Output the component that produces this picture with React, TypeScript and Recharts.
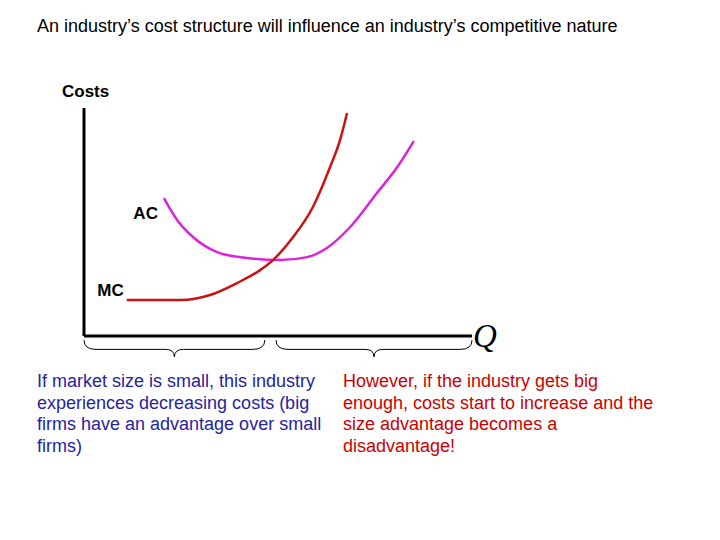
import React from "react";
import { LineChart, Line, XAxis, YAxis, ReferenceArea, ReferenceLine } from "recharts";

// curve points (quantity 0-100, cost 0-100)
const MC_Q = [11, 25, 32.5, 39.4, 45.4, 48.7, 53.9, 59, 63.4, 66, 67.8];
const MC_C = [15.8, 15.8, 18, 23.2, 28.9, 33.3, 43.4, 56.6, 74, 86, 97.8];
const AC_Q = [20.6, 24, 28.1, 34.3, 42, 50.5, 57.5, 62.6, 68.6, 75.5, 80.7, 85];
const AC_C = [60.5, 50.9, 43.4, 36.8, 34.2, 33.3, 34.6, 38.6, 47.8, 62.7, 74, 85.5];

// brace ranges along the quantity axis
const BRACES = [
  [0, 46.6],
  [49.5, 100],
];

const TITLE = "An industry\u2019s cost structure will influence an industry\u2019s competitive nature";
const LEFT_NOTE = [
  "If market size is small, this industry",
  "experiences decreasing costs (big",
  "firms have an advantage over small",
  "firms)",
];
const RIGHT_NOTE = [
  "However, if the industry gets big",
  "enough, costs start to increase and the",
  "size advantage becomes a",
  "disadvantage!",
];

const mcData = MC_Q.map((q, i) => ({ q, c: MC_C[i] }));
const acData = AC_Q.map((q, i) => ({ q, c: AC_C[i] }));

const FONT = "'Liberation Sans', Arial, sans-serif";

function Brace(props: any) {
  const { x, y, width, height } = props;
  const mid = x + width / 2;
  const r = 6;
  const yMid = y + height * 0.55;
  const yBot = y + height;
  const d = [
    `M${x},${y}`,
    `Q${x},${yMid} ${x + r * 2},${yMid}`,
    `L${mid - r * 1.5},${yMid}`,
    `Q${mid},${yMid} ${mid},${yBot}`,
    `Q${mid},${yMid} ${mid + r * 1.5},${yMid}`,
    `L${x + width - r * 2},${yMid}`,
    `Q${x + width},${yMid} ${x + width},${y}`,
  ].join(" ");
  return <path d={d} fill="none" stroke="#000" strokeWidth={1} />;
}

function CurveLabel(text: string, dx: number, dy: number) {
  return (props: any) => {
    if (props.index !== 0) return null;
    return (
      <text
        x={props.x + dx}
        y={props.y + dy}
        textAnchor="end"
        fontFamily={FONT}
        fontSize={17}
        fontWeight="bold"
        fill="#000"
        dominantBaseline="central"
      >
        {text}
      </text>
    );
  };
}

export default function App() {
  return (
    <div style={{ position: "absolute", left: 0, top: 0, width: 720, height: 540, background: "#fff", fontFamily: FONT }}>
      <div style={{ position: "absolute", left: 37, top: 16, fontSize: 18, color: "#000", whiteSpace: "nowrap" }}>
        {TITLE}
      </div>
      <div style={{ position: "absolute", left: 62, top: 82, fontSize: 17, fontWeight: "bold", color: "#000" }}>
        Costs
      </div>
      <div
        style={{
          position: "absolute",
          left: 473,
          top: 318,
          fontSize: 33,
          fontStyle: "italic",
          fontFamily: "'Liberation Serif', 'Times New Roman', serif",
          color: "#000",
        }}
      >
        Q
      </div>
      <LineChart
        width={720}
        height={540}
        margin={{ top: 108, right: 248, bottom: 204, left: 84 }}
        style={{ position: "absolute", left: 0, top: 0 }}
      >
        <XAxis type="number" dataKey="q" domain={[0, 100]} hide allowDataOverflow />
        <YAxis type="number" dataKey="c" domain={[0, 100]} hide allowDataOverflow />
        <ReferenceLine
          segment={[
            { x: 0, y: 0 },
            { x: 0, y: 100 },
          ]}
          stroke="#000"
          strokeWidth={3}
          ifOverflow="visible"
        />
        <ReferenceLine
          segment={[
            { x: 0, y: 0 },
            { x: 100, y: 0 },
          ]}
          stroke="#000"
          strokeWidth={3}
          ifOverflow="visible"
        />
        {BRACES.map(([a, b], i) => (
          <ReferenceArea
            key={i}
            x1={a}
            x2={b}
            y1={-1.8}
            y2={-9.2}
            ifOverflow="visible"
            shape={<Brace />}
          />
        ))}
        <Line
          data={acData}
          dataKey="c"
          type="monotone"
          stroke="#dd22dd"
          strokeWidth={2.5}
          dot={false}
          isAnimationActive={false}
          label={CurveLabel("AC", -6, 15)}
        />
        <Line
          data={mcData}
          dataKey="c"
          type="monotone"
          stroke="#cc1111"
          strokeWidth={2.5}
          dot={false}
          isAnimationActive={false}
          label={CurveLabel("MC", -3, -9)}
        />
      </LineChart>
      <div style={{ position: "absolute", left: 37, top: 371, fontSize: 18, lineHeight: "21.7px", color: "#2424a0" }}>
        {LEFT_NOTE.map((t, i) => (
          <div key={i}>{t}</div>
        ))}
      </div>
      <div style={{ position: "absolute", left: 343, top: 371, fontSize: 18, lineHeight: "21.7px", color: "#cc0000" }}>
        {RIGHT_NOTE.map((t, i) => (
          <div key={i}>{t}</div>
        ))}
      </div>
    </div>
  );
}
